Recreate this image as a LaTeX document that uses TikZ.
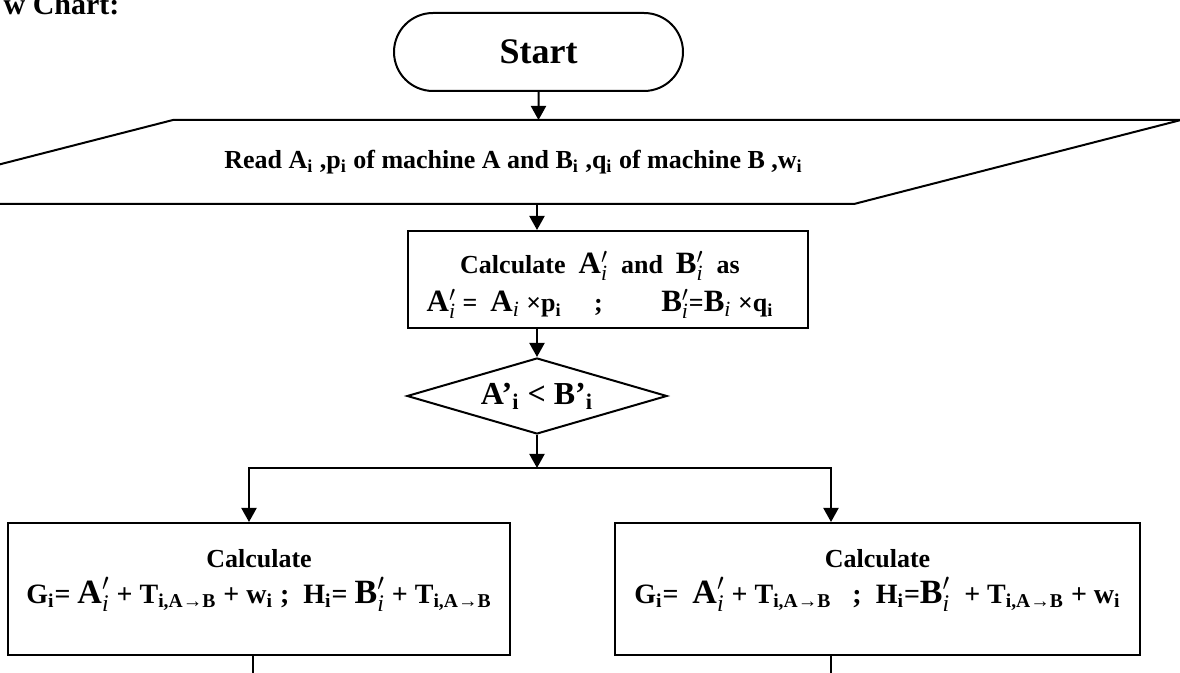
\documentclass[tikz,border=0pt]{standalone}
\usepackage{fontspec}
\setmainfont{Liberation Serif}
\usepackage{tikz}
\usetikzlibrary{arrows.meta,positioning,shapes.geometric,shapes.misc,calc}
\newcommand{\subi}{\textsubscript{i}}
\newcommand{\symfont}{\fontsize{17}{17}\selectfont}
\newcommand{\Ap}{{\symfont$\mathbf{A}'_{\mathit{i}}$}}
\newcommand{\Bp}{{\symfont$\mathbf{B}'_{\mathit{i}}$}}
\newcommand{\Tab}{T\textsubscript{i,A→B}}

\begin{document}
\begin{tikzpicture}[x=0.5pt,y=-0.5pt,line width=1pt,
  term/.style={draw,rounded rectangle,minimum width=144.5pt,minimum height=39pt,inner sep=0pt},
  io/.style={inner sep=0pt,minimum width=339.5pt,minimum height=41pt},
  proc/.style={draw,rectangle,inner sep=0pt},
  dec/.style={draw,diamond,aspect=3.4,inner sep=0pt,minimum width=130pt,minimum height=38pt},
  txt/.style={align=center,inner sep=0pt},
  e/.style={-{Triangle[length=7pt,width=7.5pt]}}]
  \useasboundingbox (0,0) rectangle (1180,673);
  \clip (0,0) rectangle (1180,673);
  \node[anchor=base west,font=\fontsize{15}{18}\selectfont\bfseries] (title) at (-4,15) {w Chart:};
  \node[term,font=\fontsize{18}{21}\selectfont\bfseries] (start) at (538.5,52) {Start};
  \node[io,font=\fontsize{13}{15}\selectfont\bfseries] (read) at (513.5,162)
    {Read A\subi{} ,p\subi{} of machine A and B\subi{} ,q\subi{} of machine B ,w\subi};
  \draw ($(read.south west)+(-328,0)$) -- (read.north west)
    -- ($(read.north east)+(327,0)$) -- (read.south east) -- cycle;
  \node[proc,minimum width=200pt,minimum height=48.5pt] (calcab) at (608,279.5) {};
  \node[txt,font=\fontsize{13}{16}\selectfont\bfseries\renewcommand{\symfont}{\fontsize{15.5}{15.5}\selectfont}]
    (calcabtext) at (600,285)
    {Calculate~ \Ap{}~ and~ \Bp{}~ as\\[3pt]
     \Ap{} = ~{\symfont$\mathbf{A}_{\mathit{i}}$} ×p\subi{} \quad ; \qquad \Bp{}={\symfont$\mathbf{B}_{\mathit{i}}$} ×q\subi};
  \node[dec,font=\fontsize{16}{19}\selectfont\bfseries] (cmp) at (537,396) {A’\subi{} < B’\subi};
  \coordinate (split) at (537,468);
  \node[proc,minimum width=251pt,minimum height=66pt] (gh1) at (259,589) {};
  \node[proc,minimum width=262.5pt,minimum height=66pt] (gh2) at (877.5,589) {};
  \node[txt,below=13pt of gh1.north,font=\fontsize{14}{18}\selectfont\bfseries] (gh1text)
    {{\fontsize{13}{15}\selectfont Calculate}\\
     G\subi= \Ap{} + \Tab{} + w\subi{} ; ~H\subi= \Bp{} + \Tab};
  \node[txt,below=13pt of gh2.north,font=\fontsize{14}{18}\selectfont\bfseries] (gh2text)
    {{\fontsize{13}{15}\selectfont Calculate}\\
     G\subi= ~\Ap{} + \Tab{} ~~; ~H\subi=\Bp{} ~+ \Tab{} + w\subi};
  \coordinate (end1) at (253,680);
  \coordinate (end2) at (831,680);
  % connectors
  \draw[e] (start) -- (start |- read.north);
  \draw[e] (cmp |- read.south) -- (cmp |- calcab.north);
  \draw[e] (cmp |- calcab.south) -- (cmp);
  \draw[e] (cmp) -- (split);
  \draw[e] (split) -| ([xshift=-5pt]gh1.north);
  \draw[e] (split) -| (gh2.north -| end2);
  \draw (gh1.south -| end1) -- (end1);
  \draw (gh2.south -| end2) -- (end2);
\end{tikzpicture}
\end{document}
